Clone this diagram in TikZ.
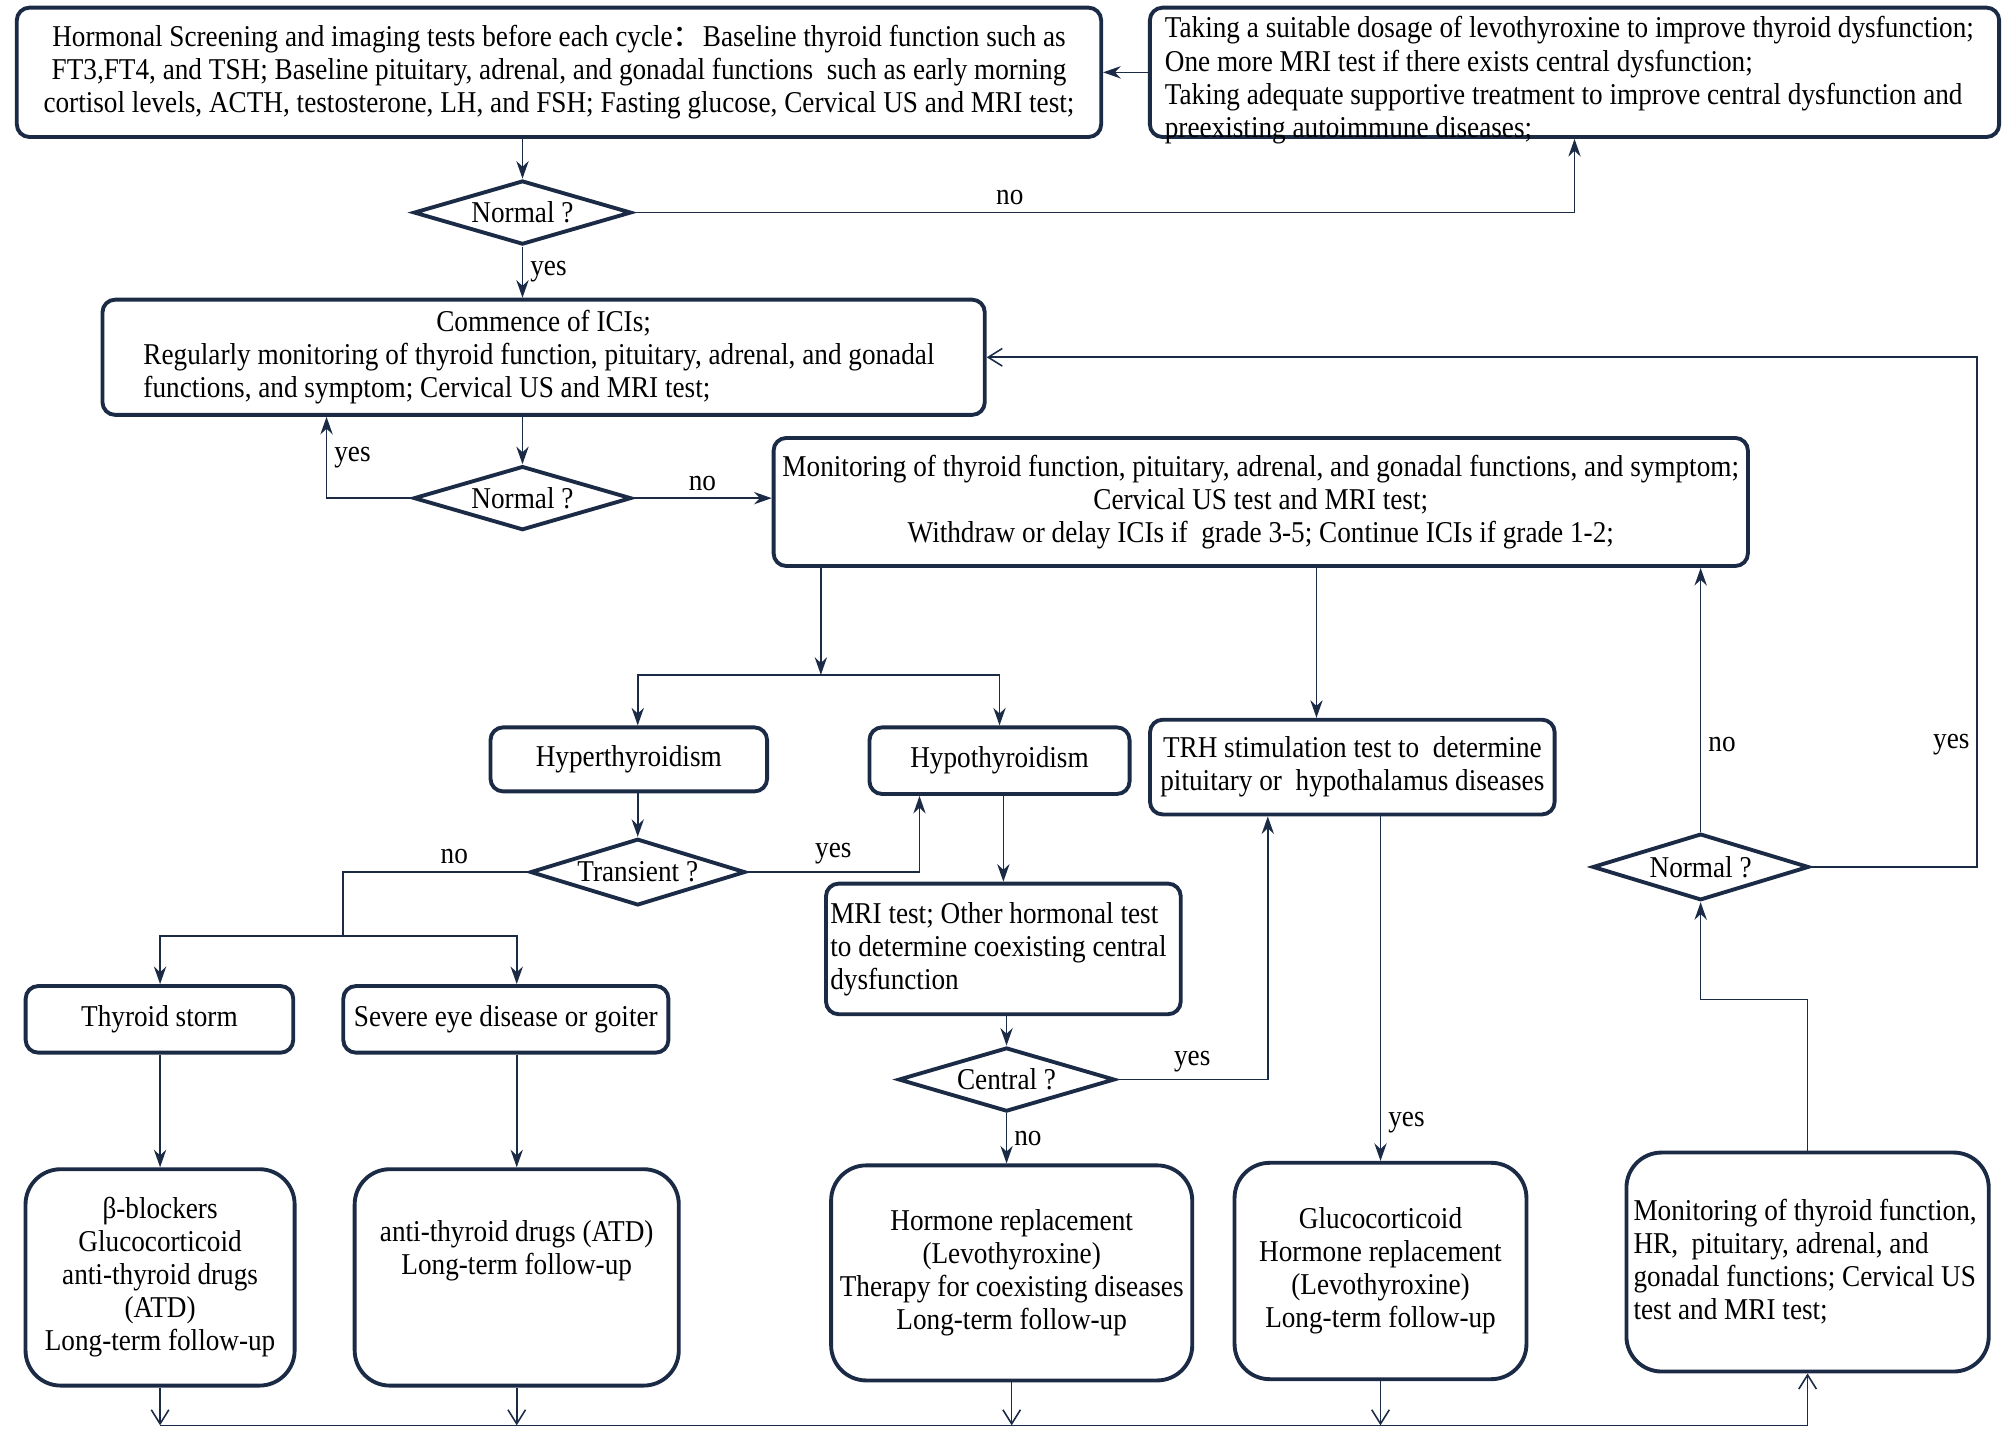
\documentclass[tikz,border=0pt]{standalone}
\usepackage{fontspec}
\setmainfont{Liberation Serif}[FakeStretch=0.9]
\newfontfamily\cjk{Noto Sans CJK SC}
\usetikzlibrary{arrows.meta, positioning, calc, shapes.geometric}
\definecolor{navy}{HTML}{1B2A45}
\newcommand{\nsp}{\spaceskip=0pt\xspaceskip=0pt\relax}
\tikzset{
  box/.style={draw=navy, line width=1.1pt, rounded corners=3.6pt, inner sep=1pt, align=center},
  endbox/.style={box, rounded corners=10pt},
  decision/.style={diamond, draw=navy, line width=1.1pt, inner sep=0pt, aspect=3.4},
  line/.style={draw=navy, line width=0.45pt},
  arr/.style={line, -{Stealth[length=5pt,width=3.5pt]}},
  arrv/.style={line, -{Straight Barb[length=4pt,width=5pt]}},
  lbl/.style={inner sep=2pt}
}

\begin{document}
\begin{tikzpicture}[x=0.0128cm, y=-0.0128cm, font=\fontsize{8.6}{9.4}\selectfont]
\useasboundingbox (0,0) rectangle (1568,1126);

% screening before the cycle
\node (scr) at (436.5, 56.5) [box, minimum width=10.84cm, minimum height=1.293cm] {Hormonal Screening and imaging tests before each cycle{\cjk ：}Baseline thyroid function such as\\FT3,FT4, and TSH; Baseline pituitary, adrenal, and gonadal functions\ \ such as early morning\\cortisol levels, ACTH, testosterone, LH, and FSH; Fasting glucose, Cervical US\ and MRI test;};
\node (treat) at (1229.5, 56.5) [box, align=left, text width=8.19cm, minimum width=8.49cm, minimum height=1.293cm, inner ysep=0pt, text depth=0.9cm] {\nsp Taking a suitable dosage of levothyroxine to improve thyroid dysfunction;\\One more MRI test if there exists central dysfunction;\\Taking adequate supportive treatment to improve central dysfunction and\\preexisting autoimmune diseases;};
\node (chk1) at (408, 166) [decision, minimum width=2.176cm, minimum height=0.64cm] {Normal ?};

% ICIs and monitoring
\node (ici) at (424.5, 279) [box, align=left, text width=8.0cm, minimum width=8.82cm, minimum height=1.152cm] {\nsp\makebox[\hsize]{Commence of ICIs;}\\Regularly\ monitoring of thyroid function, pituitary, adrenal, and gonadal\\functions, and symptom; Cervical US\ and MRI test;};
\node (chk2) at (408, 389) [decision, minimum width=2.176cm, minimum height=0.64cm] {Normal ?};
\node (mon) at (984.5, 392) [box, minimum width=9.74cm, minimum height=1.28cm] {Monitoring\ of thyroid function, pituitary, adrenal, and gonadal functions, and symptom;\\Cervical US\ test and MRI test;\\Withdraw or delay ICIs if\ \ grade 3-5; Continue ICIs if grade 1-2;};

% thyroid branches
\node (hyper) at (491, 593) [box, minimum width=2.765cm, minimum height=0.64cm] {Hyperthyroidism};
\node (hypo) at (780.5, 594) [box, minimum width=2.6cm, minimum height=0.666cm] {Hypothyroidism};
\node (trh) at (1056, 599) [box, minimum width=4.045cm, minimum height=0.947cm] {TRH stimulation test to\ \ determine\\pituitary or\ \ hypothalamus diseases};
\node (tran) at (498, 681) [decision, minimum width=2.15cm, minimum height=0.666cm] {Transient ?};
\node (chk3) at (1328, 677) [decision, minimum width=2.163cm, minimum height=0.666cm] {Normal ?};
\node (storm) at (124.5, 796) [box, minimum width=2.675cm, minimum height=0.666cm] {Thyroid storm};
\node (eye) at (395, 796) [box, minimum width=3.25cm, minimum height=0.666cm] {Severe eye disease or goiter};
\node (mri) at (783.5, 741) [box, align=left, text width=3.46cm, minimum width=3.546cm, minimum height=1.306cm] {\nsp MRI test; Other hormonal test\\to determine coexisting central\\dysfunction};
\node (cen) at (786, 843) [decision, minimum width=2.163cm, minimum height=0.64cm] {Central ?};

% treatments
\node (f1) at (125, 997.5) [endbox, minimum width=2.69cm, minimum height=2.163cm] {β-blockers\\Glucocorticoid\\anti-thyroid drugs\\(ATD)\\Long-term follow-up};
\node (f2) at (403.5, 997.5) [endbox, minimum width=3.24cm, minimum height=2.163cm] {anti-thyroid drugs (ATD)\\Long-term follow-up\\[5pt]\strut};
\node (h1) at (790, 994) [endbox, minimum width=3.61cm, minimum height=2.15cm] {Hormone replacement\\(Levothyroxine)\\Therapy for coexisting diseases\\Long-term follow-up};
\node (h2) at (1078, 992.5) [endbox, minimum width=2.918cm, minimum height=2.163cm] {Glucocorticoid\\Hormone replacement\\(Levothyroxine)\\Long-term follow-up};
\node (h3) at (1411.5, 985.5) [endbox, align=left, text width=3.48cm, minimum width=3.622cm, minimum height=2.189cm] {\nsp Monitoring of thyroid function,\\HR,\ \ pituitary, adrenal, and\\gonadal functions; Cervical US\\test and MRI test;};

% connectors
\draw[arr] (treat.west) -- (scr.east);
\draw[arr] (scr.south -| chk1.north) -- (chk1.north);
\draw[arr] (chk1.east) -| node[pos=0.2, above, lbl] {no} (treat.south);
\draw[arr] (chk1.south) -- node[right, lbl] {yes} (chk1.south |- ici.north);
\draw[arr] (ici.south -| chk2.north) -- (chk2.north);
\draw[arr] (chk2.west) -| node[pos=0.75, right, lbl] {yes} ([xshift=-2.17cm]ici.south);
\draw[arr] (chk2.east) -- node[above, lbl] {no} (chk2.east -| mon.west);
\coordinate (split) at (641, 527);
\draw[arr] (mon.south -| split) -- (split);
\draw[arr] (split) -| (tran.north |- hyper.north);
\draw[arr] (split) -| (hypo.north);
\draw[arr] ([xshift=0.557cm]mon.south) -- ([xshift=0.557cm]mon.south |- trh.north);
\draw[arr] (hyper.south -| tran.north) -- (tran.north);
\draw[arr] (tran.east) -| node[pos=0.25, above, lbl] {yes} ([xshift=-0.8cm]hypo.south);
\coordinate (fork) at (268, 731);
\draw[line] (tran.west) -| node[pos=0.2, above, lbl] {no} (fork);
\draw[arr] (fork) -| (f1.north |- storm.north);
\draw[arr] (fork) -| (f2.north |- eye.north);
\draw[arr] (storm.south -| f1.north) -- (f1.north);
\draw[arr] (eye.south -| f2.north) -- (f2.north);
\draw[arr] (hypo.south -| mri.north) -- (mri.north);
\draw[arr] (mri.south -| cen.north) -- (cen.north);
\draw[arr] (cen.east) -| node[pos=0.25, above, lbl] {yes} ([xshift=-0.845cm]trh.south);
\draw[arr] (cen.south) -- node[right, lbl] {no} (cen.south |- h1.north);
\draw[arr] (h2.north |- trh.south) -- node[pos=0.89, right, lbl] {yes} (h2.north);
\coordinate (base) at (131, 1113);
\foreach \n in {f1, f2, h1, h2} \draw[arrv] (\n.south) -- (\n.south |- base);
\draw[arrv] (f1.south |- base) -| (h3.south);
\draw[arr] (h3.north) |- ([yshift=-0.973cm]chk3.south) -- (chk3.south);
\draw[arr] (chk3.north) -- node[pos=0.33, right, lbl] {no} (chk3.north |- mon.south);
\draw[arrv] (chk3.east) -- ++(130,0) |- node[pos=0.12, left, lbl] {yes} (ici.east);
\end{tikzpicture}
\end{document}
